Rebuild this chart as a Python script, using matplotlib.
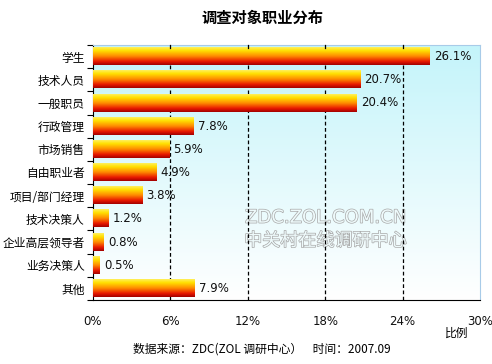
import numpy as np
import matplotlib
matplotlib.use("Agg")
import matplotlib.pyplot as plt
from matplotlib.colors import LinearSegmentedColormap
import matplotlib.patheffects as pe

plt.rcParams['font.family'] = ['Noto Sans CJK SC', 'DejaVu Sans']

title = "调查对象职业分布"
categories = ["学生", "技术人员", "一般职员", "行政管理", "市场销售", "自由职业者",
              "项目/部门经理", "技术决策人", "企业高层领导者", "业务决策人", "其他"]
values = [26.1, 20.7, 20.4, 7.8, 5.9, 4.9, 3.8, 1.2, 0.8, 0.5, 7.9]
xticks = [0, 6, 12, 18, 24, 30]
xticklabels = ["0%", "6%", "12%", "18%", "24%", "30%"]
xlabel = "比例"
source = "数据来源：ZDC(ZOL 调研中心）    时间：2007.09"

fig = plt.figure(figsize=(4.92, 3.64), dpi=100)
ax = fig.add_axes([93/492, 1-300/364, (480-93)/492, (300-45)/364])

# background gradient
bg = LinearSegmentedColormap.from_list("bg", ["#ffffff", "#c4f4fa"])
grad = np.linspace(0, 1, 256).reshape(-1, 1)
ax.imshow(grad, cmap=bg, extent=[0, 1, 1, 0], transform=ax.transAxes,
          aspect='auto', zorder=0)

barcmap = LinearSegmentedColormap.from_list(
    "bar", [(0, "#fff060"), (0.2, "#ffe000"), (0.5, "#ff8c00"), (0.8, "#e81800"), (1, "#a00000")])
h = 0.74
n = len(categories)
for i, v in enumerate(values):
    ax.imshow(grad, cmap=barcmap, extent=[0, v, i + h/2, i - h/2],
              aspect='auto', zorder=3, interpolation='bilinear')
    ax.text(v + 0.35, i, f"{v:.1f}%", va='center', ha='left', fontsize=8.5,
            family=['DejaVu Sans'], color='#111111', zorder=4)

ax.set_xlim(0, 30)
ax.set_ylim(n - 0.5, -0.5)
ax.set_aspect('auto')

for x in xticks[1:-1]:
    ax.axvline(x, color='black', ls=(0, (3, 2)), lw=0.9, zorder=2)

ax.set_xticks(xticks)
ax.set_xticklabels(xticklabels, fontsize=8.5, family=['DejaVu Sans'])
ax.tick_params(axis='x', length=0, pad=11, colors='#111111')
ax.set_yticks(range(n))
ax.set_yticklabels(categories, fontsize=8.5)
ax.tick_params(axis='y', length=0, pad=6)
ax.set_yticks(np.arange(-0.5, n, 1), minor=True)
ax.tick_params(axis='y', which='minor', length=4, width=0.8, direction='out')

for x in xticks[1:-1]:
    ax.plot([x, x], [-0.5, -0.35], color='black', lw=0.9, zorder=4, clip_on=False)

ax.spines['left'].set_color('black')
ax.spines['bottom'].set_color('black')
ax.spines['top'].set_color('#a8cbe8')
ax.spines['right'].set_color('#a8cbe8')

# watermark
wm_fx = pe.withStroke(linewidth=1.0, foreground='#a8a8a8')
ax.text(18.0, 6.95, "ZDC.ZOL.COM.CN", fontsize=13, color='#eefafb', ha='center',
        va='center', family=['DejaVu Sans'], path_effects=[wm_fx], zorder=1)
ax.text(18.0, 7.95, "中关村在线调研中心", fontsize=13, color='#eefafb', ha='center',
        va='center', path_effects=[wm_fx], zorder=1)

fig.text(262/492, 1-18/364, title, ha='center', va='center', fontsize=11, fontweight='bold')
fig.text(457/492, 1-333/364, xlabel, ha='center', va='center', fontsize=8.5)
fig.text(262/492, 1-349/364, source, ha='center', va='center', fontsize=8.5)

fig.savefig("out.png", dpi=100)
